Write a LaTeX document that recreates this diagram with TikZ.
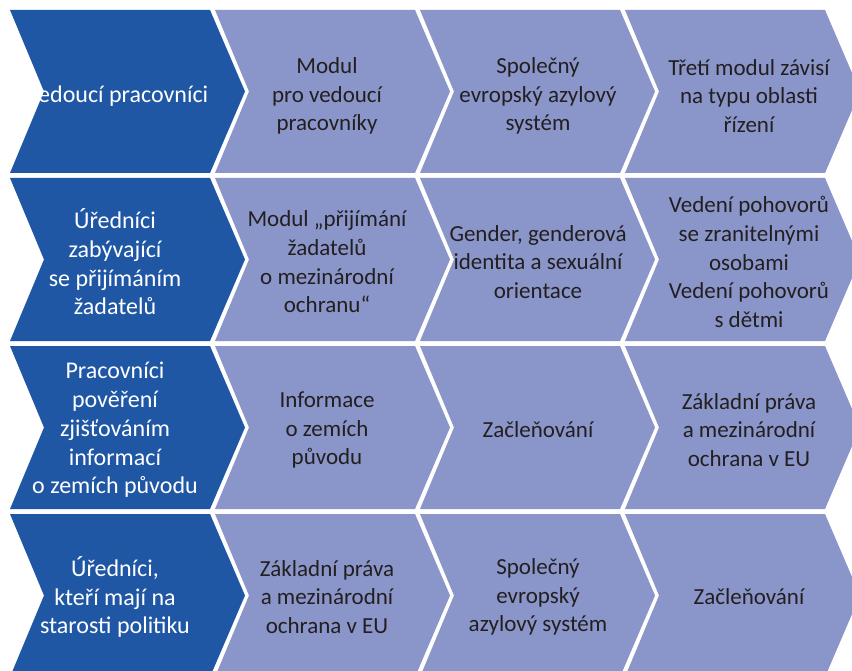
\documentclass[tikz,border=0pt]{standalone}
\usepackage{fontspec}
\setmainfont{Carlito}
\definecolor{darkchev}{RGB}{31,87,165}
\definecolor{lightchev}{RGB}{138,150,201}
\definecolor{chevtext}{RGB}{35,31,32}
\begin{document}
\begin{tikzpicture}[x=1pt,y=-1pt,
    lbl/.style={align=center,font=\fontsize{23}{28.7}\selectfont,text=chevtext},
    head/.style={lbl,font=\fontsize{24}{28.7}\selectfont,text=white}]
    \useasboundingbox (0,0) rectangle (852,671);
    \clip (0,0) rectangle (852,671); % last row and column run off the page
    \fill[white] (0,0) rectangle (852,671);

    \foreach \top in {10, 178, 346, 514} {
        \foreach \left/\clr in {10/darkchev, 215/lightchev, 420/lightchev, 625/lightchev} {
            \fill[\clr] (\left, \top) -- ++(200, 0) -- ++(35, 81.5) -- ++(-35, 81.5)
                -- ++(-200, 0) -- ++(34, -81.5) -- cycle; % one chevron
        }
    }

    % row 1
    \node[head] (lead1) at (117, 96) {Vedoucí pracovníci};
    \node[lbl] (mod12) at (327, 96) {Modul\\pro vedoucí\\pracovníky};
    \node[lbl] (mod13) at (538, 96) {Společný\\evropský azylový\\systém};
    \node[lbl] (mod14) at (749, 96) {Třetí modul závisí\\na typu oblasti\\řízení};

    % row 2
    \node[head] (lead2) at (115, 262) {Úředníci\\zabývající\\se přijímáním\\žadatelů};
    \node[lbl] (mod22) at (327, 262) {Modul „přijímání\\žadatelů\\o mezinárodní\\ochranu“};
    \node[lbl] (mod23) at (538, 262) {Gender, genderová\\identita a sexuální\\orientace};
    \node[lbl] (mod24) at (749, 262) {Vedení pohovorů\\se zranitelnými\\osobami\\Vedení pohovorů\\s dětmi};

    % row 3
    \node[head] (lead3) at (115, 430) {Pracovníci\\pověření\\zjišťováním\\informací\\o zemích původu};
    \node[lbl] (mod32) at (327, 430) {Informace\\o zemích\\původu};
    \node[lbl] (mod33) at (538, 430) {Začleňování};
    \node[lbl] (mod34) at (749, 430) {Základní práva\\a mezinárodní\\ochrana v EU};

    % row 4
    \node[head] (lead4) at (115, 597) {Úředníci,\\kteří mají na\\starosti politiku};
    \node[lbl] (mod42) at (327, 597) {Základní práva\\a mezinárodní\\ochrana v EU};
    \node[lbl] (mod43) at (538, 597) {Společný\\evropský\\azylový systém};
    \node[lbl] (mod44) at (749, 597) {Začleňování};

\end{tikzpicture}
\end{document}
